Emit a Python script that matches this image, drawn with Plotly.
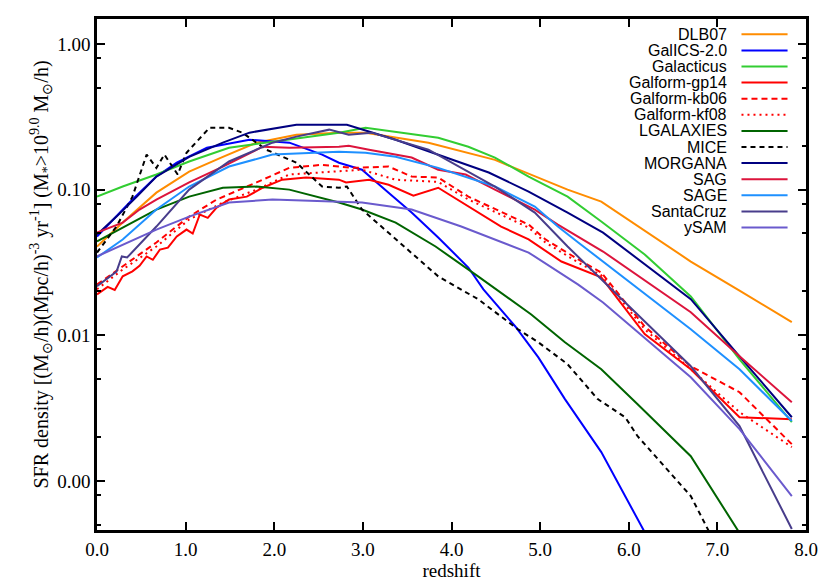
import plotly.graph_objects as go

# Cosmic star formation rate density per model
dlb07_z = [0.0, 0.29, 0.67, 1.04, 1.42, 1.80, 2.25, 2.73, 3.03, 3.74, 4.49, 5.31, 5.69, 6.16, 6.70, 7.25, 7.84]
dlb07_sfr = [0.0407, 0.0594, 0.0953, 0.133, 0.168, 0.210, 0.238, 0.246, 0.246, 0.210, 0.160, 0.100, 0.0828, 0.0532, 0.0321, 0.0203, 0.0123]

galics_z = [0.0, 0.40, 0.67, 0.90, 1.24, 1.72, 2.17, 2.54, 2.73, 2.99, 3.29, 3.55, 3.85, 4.19, 4.36, 4.72, 4.98, 5.28, 5.69, 6.10, 6.30]
galics_sfr = [0.0477, 0.0855, 0.123, 0.153, 0.194, 0.220, 0.210, 0.174, 0.153, 0.137, 0.0953, 0.0696, 0.0469, 0.0292, 0.0207, 0.0115, 0.00706, 0.00365, 0.00158, 0.000549, 0.000327]

galacticus_z = [0.0, 0.29, 0.67, 1.04, 1.49, 1.98, 2.73, 3.03, 3.85, 4.19, 4.49, 4.87, 5.31, 5.69, 6.18, 6.70, 7.25, 7.84]
galacticus_sfr = [0.0895, 0.105, 0.127, 0.156, 0.194, 0.213, 0.246, 0.266, 0.227, 0.197, 0.166, 0.123, 0.0895, 0.0604, 0.0359, 0.0185, 0.00685, 0.00254]

gp14_z = [0.0, 0.12, 0.20, 0.29, 0.40, 0.48, 0.56, 0.63, 0.71, 0.80, 0.90, 1.01, 1.08, 1.16, 1.25, 1.35, 1.49, 1.69, 1.87, 2.09, 2.36, 2.73, 2.81, 3.07, 3.29, 3.57, 3.85, 4.19, 4.56, 4.87, 5.24, 5.69, 6.18, 6.70, 7.25, 7.84]
gp14_sfr = [0.0191, 0.0215, 0.0205, 0.0254, 0.0275, 0.0300, 0.0348, 0.0330, 0.0388, 0.0400, 0.0477, 0.0532, 0.0500, 0.0675, 0.0640, 0.0753, 0.0855, 0.0895, 0.103, 0.117, 0.121, 0.117, 0.112, 0.117, 0.108, 0.0910, 0.103, 0.0765, 0.0558, 0.0455, 0.0321, 0.0250, 0.0102, 0.00585, 0.00274, 0.00266]

kb06_z = [0.0, 0.29, 0.67, 1.04, 1.35, 1.80, 2.17, 2.54, 2.73, 2.88, 3.29, 3.55, 3.85, 4.19, 4.87, 5.06, 5.43, 5.69, 6.18, 6.70, 7.25, 7.84]
kb06_sfr = [0.0223, 0.0297, 0.0434, 0.0653, 0.0855, 0.112, 0.141, 0.148, 0.144, 0.141, 0.144, 0.123, 0.121, 0.0895, 0.0576, 0.0455, 0.0332, 0.0270, 0.0115, 0.00613, 0.00407, 0.00179]

kf08_z = [0.0, 0.29, 0.67, 1.04, 1.42, 1.80, 2.17, 2.73, 2.99, 3.37, 3.85, 4.19, 4.87, 5.06, 5.43, 5.69, 6.18, 6.70, 7.25, 7.84]
kf08_sfr = [0.0207, 0.0283, 0.0407, 0.0624, 0.0815, 0.100, 0.127, 0.133, 0.137, 0.117, 0.113, 0.0855, 0.0549, 0.0434, 0.0316, 0.0258, 0.0110, 0.00585, 0.00297, 0.00171]

lgal_z = [0.0, 0.29, 0.67, 1.04, 1.42, 1.80, 2.17, 2.73, 2.99, 3.37, 3.82, 4.30, 4.90, 5.28, 5.69, 6.10, 6.70, 7.35]
lgal_sfr = [0.0441, 0.0549, 0.0730, 0.0895, 0.103, 0.105, 0.100, 0.0815, 0.0730, 0.0594, 0.0407, 0.0254, 0.0139, 0.00896, 0.00585, 0.00337, 0.00148, 0.000353]

mice_z = [0.0, 0.22, 0.40, 0.56, 0.67, 0.76, 0.91, 1.01, 1.27, 1.49, 1.64, 1.91, 2.25, 2.54, 2.73, 2.82, 2.99, 3.37, 3.85, 4.30, 4.75, 4.98, 5.31, 5.65, 5.96, 6.10, 6.70, 7.00]
mice_sfr = [0.0370, 0.0558, 0.0895, 0.174, 0.141, 0.174, 0.127, 0.179, 0.266, 0.266, 0.246, 0.188, 0.153, 0.105, 0.103, 0.105, 0.0730, 0.0455, 0.0254, 0.0177, 0.0110, 0.00896, 0.00633, 0.00365, 0.00274, 0.00203, 0.000789, 0.000348]

morgana_z = [0.0, 0.22, 0.45, 0.67, 1.04, 1.42, 1.72, 2.25, 2.73, 2.82, 3.37, 3.85, 4.42, 4.87, 5.31, 5.71, 6.70, 7.25, 7.84]
morgana_sfr = [0.0492, 0.0653, 0.0895, 0.123, 0.168, 0.210, 0.246, 0.279, 0.279, 0.279, 0.220, 0.174, 0.131, 0.0969, 0.0696, 0.0507, 0.0177, 0.00718, 0.00274]

sag_z = [0.0, 0.29, 0.48, 0.67, 1.04, 1.42, 1.87, 2.17, 2.73, 2.84, 3.07, 3.55, 3.85, 4.16, 4.49, 4.94, 5.20, 5.71, 6.70, 7.25, 7.84]
sag_sfr = [0.0507, 0.0594, 0.0730, 0.0855, 0.112, 0.144, 0.197, 0.194, 0.197, 0.200, 0.188, 0.166, 0.137, 0.127, 0.100, 0.0730, 0.0576, 0.0376, 0.0144, 0.00718, 0.00348]

sage_z = [0.0, 0.29, 0.67, 1.04, 1.49, 1.98, 2.73, 3.03, 3.37, 3.85, 4.49, 4.94, 5.20, 5.43, 6.70, 7.25, 7.84]
sage_sfr = [0.0342, 0.0455, 0.0730, 0.105, 0.144, 0.174, 0.182, 0.179, 0.168, 0.141, 0.105, 0.0765, 0.0558, 0.0434, 0.0110, 0.00585, 0.00258]

santacruz_z = [0.0, 0.22, 0.28, 0.34, 0.67, 1.04, 1.49, 1.98, 2.25, 2.62, 2.84, 3.10, 3.74, 4.49, 4.94, 5.31, 6.70, 7.25, 7.84]
santacruz_sfr = [0.0217, 0.0274, 0.0348, 0.0342, 0.0558, 0.100, 0.156, 0.210, 0.231, 0.258, 0.238, 0.246, 0.188, 0.105, 0.0696, 0.0407, 0.00613, 0.00238, 0.000469]

ysam_z = [0.0, 0.29, 0.67, 1.04, 1.49, 1.98, 2.73, 2.99, 3.55, 4.11, 4.87, 5.43, 5.71, 6.70, 7.25, 7.84]
ysam_sfr = [0.0348, 0.0420, 0.0532, 0.0653, 0.0815, 0.0855, 0.0828, 0.0815, 0.0730, 0.0558, 0.0370, 0.0223, 0.0168, 0.00516, 0.00227, 0.000789]

# axis ticks
x_ticks = [0, 1, 2, 3, 4, 5, 6, 7, 8]
y_ticks = [1.0, 0.1, 0.01, 0.001]
y_ticktext = ["1.00", "0.10", "0.01", "0.00"]
y_minor = [m * 10.0 ** e for e in range(-4, 1) for m in (0.8, 0.5, 0.2)]

models = [
    ("DLB07", dlb07_z, dlb07_sfr, "#ff8c00", "solid"),
    ("GalICS-2.0", galics_z, galics_sfr, "#0000ff", "solid"),
    ("Galacticus", galacticus_z, galacticus_sfr, "#32cd32", "solid"),
    ("Galform-gp14", gp14_z, gp14_sfr, "#ff0000", "solid"),
    ("Galform-kb06", kb06_z, kb06_sfr, "#ff0000", "6px,4px"),
    ("Galform-kf08", kf08_z, kf08_sfr, "#ff0000", "2px,4px"),
    ("LGALAXIES", lgal_z, lgal_sfr, "#006400", "solid"),
    ("MICE", mice_z, mice_sfr, "#000000", "5px,4px"),
    ("MORGANA", morgana_z, morgana_sfr, "#000080", "solid"),
    ("SAG", sag_z, sag_sfr, "#dc143c", "solid"),
    ("SAGE", sage_z, sage_sfr, "#1e90ff", "solid"),
    ("SantaCruz", santacruz_z, santacruz_sfr, "#483d8b", "solid"),
    ("ySAM", ysam_z, ysam_sfr, "#6a5acd", "solid"),
]

fig = go.Figure()

for name, z, sfr, color, dash in models:
    fig.add_trace(go.Scatter(
        x=z, y=sfr, mode="lines", name=name,
        line=dict(color=color, width=2, dash=dash),
        showlegend=False,
    ))

# legend drawn by hand: text right-aligned, line sample to its right
row_top = 0.970
row_step = 0.0315
for i, (name, z, sfr, color, dash) in enumerate(models):
    yy = row_top - i * row_step
    fig.add_annotation(
        x=0.892, y=yy, xref="paper", yref="paper",
        xanchor="right", yanchor="middle", showarrow=False,
        text=name, font=dict(family="Liberation Sans", size=16, color="black"),
    )
    fig.add_shape(
        type="line", xref="paper", yref="paper",
        x0=0.909, x1=0.974, y0=yy, y1=yy,
        line=dict(color=color, width=2, dash=dash),
    )

axis_font = dict(family="Liberation Serif", size=19, color="black")

fig.update_layout(
    width=830, height=581,
    margin=dict(l=97, r=24, t=19, b=51),
    paper_bgcolor="white", plot_bgcolor="white",
    font=axis_font,
    xaxis=dict(
        range=[0, 8], tickvals=x_ticks, tickformat=".1f", automargin=False,
        ticks="inside", ticklen=8, tickwidth=2, tickcolor="black",
        showline=True, linewidth=2.5, linecolor="black", mirror="allticks",
        showgrid=False, zeroline=False,
        title=dict(text="redshift", font=axis_font, standoff=2),
    ),
    yaxis=dict(
        type="log", range=[-3.336, 0.171], automargin=False,
        tickmode="array", tickvals=y_ticks, ticktext=y_ticktext,
        ticks="inside", ticklen=8, tickwidth=2, tickcolor="black",
        minor=dict(tickmode="array", tickvals=y_minor, ticks="inside", ticklen=4,
                   tickwidth=2, tickcolor="black", showgrid=False),
        showline=True, linewidth=2.5, linecolor="black", mirror="allticks",
        showgrid=False, zeroline=False,
        title=dict(
            text="SFR density [(M<sub>⊙</sub>/h)(Mpc/h)<sup>-3</sup> yr<sup>-1</sup>] (M<sub>*</sub>>10<sup>9.0</sup> M<sub>⊙</sub>/h)",
            font=dict(family="Liberation Serif", size=20, color="black"), standoff=4,
        ),
    ),
)

# page body margin would push the 830x581 figure off the window
fig.write_html(
    "out.html",
    config={"displayModeBar": False},
    post_script="document.body.style.margin='0';",
)
